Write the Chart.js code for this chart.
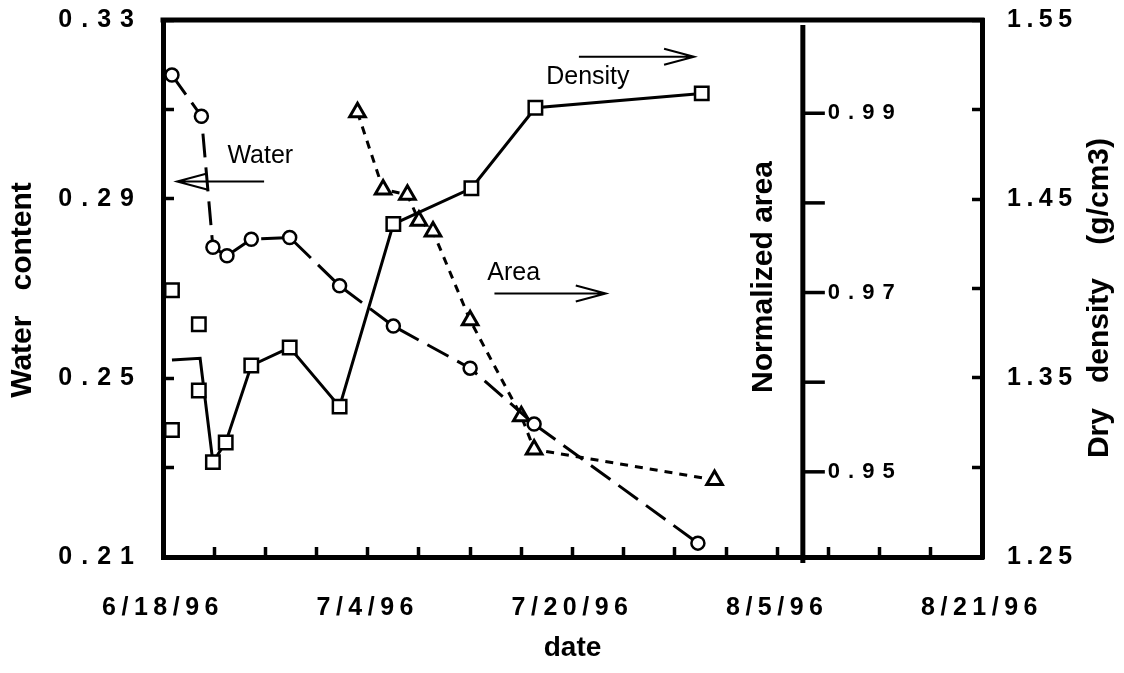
<!DOCTYPE html>
<html>
<head>
<meta charset="utf-8">
<title>Water content, dry density and normalized area</title>
<script src="https://cdn.jsdelivr.net/npm/chart.js@4.4.1/dist/chart.umd.min.js"></script>
<style>
  html, body { margin: 0; padding: 0; background: #fff; }
</style>
</head>
<body>
<canvas id="soilChart" width="1124" height="673"></canvas>
<script>
// x values are days counted from 6/18/96
const dateTicks = [0, 16, 32, 48, 64];
const dateLabels = ['6/18/96', '7/4/96', '7/20/96', '8/5/96', '8/21/96'];

const waterDays = [0.7, 3.0, 3.9, 5.0, 6.9, 9.9, 13.8, 18.0, 24.0, 29.0, 41.8];
const waterContent = [0.3177, 0.3085, 0.2792, 0.2773, 0.2810, 0.2814, 0.2706, 0.2616, 0.2522, 0.2397, 0.2131];

// single density samples (squares)
const densityDays = [0.7, 0.7, 2.8, 2.8, 3.9, 4.9, 6.9, 9.9, 13.8, 18.0, 24.1, 29.1, 42.1];
const densityValues = [1.399, 1.321, 1.380, 1.343, 1.303, 1.314, 1.357, 1.367, 1.334, 1.436, 1.456, 1.501, 1.509];

// mean density per day (solid line)
const densityMeanDays = [0.7, 2.9, 3.9, 4.9, 6.9, 9.9, 13.8, 18.0, 24.1, 29.1, 42.1];
const densityMean = [1.360, 1.361, 1.303, 1.314, 1.357, 1.367, 1.334, 1.436, 1.456, 1.501, 1.509];

const areaDays = [15.2, 17.2, 19.1, 20.0, 21.1, 24.0, 28.0, 29.0, 43.1];
const areaValues = [0.9901, 0.9815, 0.9809, 0.9780, 0.9768, 0.9669, 0.9562, 0.9525, 0.9491];

const waterTicks = [0.21, 0.25, 0.29, 0.33];
const densityTicks = [1.25, 1.35, 1.45, 1.55];
const areaTicks = [0.95, 0.96, 0.97, 0.98, 0.99];
const areaTickLabels = [0.95, 0.97, 0.99];
const areaAxisDay = 50;

const family = '"Liberation Sans", Arial, Helvetica, sans-serif';
const black = '#000';

const toPoints = (xs, ys) => xs.map((x, i) => ({ x: x, y: ys[i] }));

// text notes with arrows, placed in (day, water content) units
const notes = [
    { text: 'Water', day: 7.6, level: 0.2996, arrowLevel: 0.2939, fromDay: 7.9, toDay: 1.1 },
    { text: 'Density', day: 33.2, level: 0.3173, arrowLevel: 0.3218, fromDay: 32.5, toDay: 41.5 },
    { text: 'Area', day: 27.4, level: 0.2735, arrowLevel: 0.2689, fromDay: 25.9, toDay: 34.6 }
];

function drawArrow(ctx, x1, y, x2) {
    const dir = Math.sign(x2 - x1);
    ctx.beginPath();
    ctx.moveTo(x1, y);
    ctx.lineTo(x2, y);
    ctx.moveTo(x2 - dir * 30, y - 8);
    ctx.lineTo(x2, y);
    ctx.lineTo(x2 - dir * 30, y + 8);
    ctx.stroke();
}

function drawVertical(ctx, text, x, y) {
    ctx.save();
    ctx.translate(x, y);
    ctx.rotate(-Math.PI / 2);
    ctx.fillText(text, 0, 0);
    ctx.restore();
}

// wide letter spacing of the original tick labels
const spacingPlugin = {
    id: 'spacing',
    beforeDraw(chart) {
        chart.ctx.letterSpacing = '5.5px';
    },
    afterDatasetsDraw(chart) {
        // left axis labels are drawn after the datasets (ticks.z = 1)
        chart.ctx.letterSpacing = '9px';
    }
};

const extrasPlugin = {
    id: 'extras',
    afterDraw(chart) {
        const { ctx, chartArea: area, scales } = chart;
        const x = scales.x;
        const yW = scales.y;
        const yA = scales.yArea;

        ctx.save();
        ctx.strokeStyle = black;
        ctx.fillStyle = black;
        ctx.letterSpacing = '0px';

        // top edge of the frame
        ctx.lineWidth = 5;
        ctx.beginPath();
        ctx.moveTo(area.left - 2.5, area.top);
        ctx.lineTo(area.right + 2.5, area.top);
        ctx.stroke();

        // normalized area axis inside the plot
        const ax = x.getPixelForValue(areaAxisDay);
        ctx.beginPath();
        ctx.moveTo(ax, area.top + 5);
        ctx.lineTo(ax, area.bottom + 6);
        ctx.stroke();

        ctx.lineWidth = 3.5;
        ctx.font = 'bold 22px ' + family;
        ctx.letterSpacing = '8px';
        ctx.textBaseline = 'middle';
        ctx.textAlign = 'left';
        areaTicks.forEach(v => {
            const py = yA.getPixelForValue(v);
            ctx.beginPath();
            ctx.moveTo(ax, py);
            ctx.lineTo(ax + 22, py);
            ctx.stroke();
            if (areaTickLabels.includes(v)) {
                ctx.fillText(v.toFixed(2), ax + 25, py);
            }
        });

        // axis titles
        ctx.font = 'bold 30px ' + family;
        ctx.letterSpacing = '0px';
        ctx.textAlign = 'center';
        drawVertical(ctx, 'Water   content', scales.y.left + 23, 290);
        drawVertical(ctx, 'Dry   density    (g/cm3)', scales.yDensity.right - 24, 298);
        drawVertical(ctx, 'Normalized area', ax - 39, 277);
        ctx.font = 'bold 28px ' + family;
        ctx.fillText('date', (area.left + area.right) / 2, 648);

        // notes
        ctx.font = '25px ' + family;
        ctx.lineWidth = 2;
        notes.forEach(n => {
            ctx.fillText(n.text, x.getPixelForValue(n.day), yW.getPixelForValue(n.level));
            drawArrow(ctx, x.getPixelForValue(n.fromDay), yW.getPixelForValue(n.arrowLevel), x.getPixelForValue(n.toDay));
        });

        ctx.restore();
    }
};

const tickFont = { family: family, size: 25, weight: 'bold' };

new Chart(document.getElementById('soilChart'), {
    type: 'line',
    data: {
        datasets: [
            {
                label: 'Water content',
                yAxisID: 'y',
                data: toPoints(waterDays, waterContent),
                borderColor: black,
                borderWidth: 3,
                borderDash: [24, 10],
                pointStyle: 'circle',
                pointRadius: 6.5,
                pointBorderWidth: 2.5,
                pointBorderColor: black,
                pointBackgroundColor: '#fff',
                tension: 0
            },
            {
                label: 'Normalized area',
                yAxisID: 'yArea',
                data: toPoints(areaDays, areaValues),
                borderColor: black,
                borderWidth: 3,
                borderDash: [8, 7],
                pointStyle: 'triangle',
                pointRadius: 9,
                pointBorderWidth: 3,
                pointBorderColor: black,
                pointBackgroundColor: '#fff',
                tension: 0
            },
            {
                label: 'Dry density samples',
                yAxisID: 'yDensity',
                data: toPoints(densityDays, densityValues),
                showLine: false,
                pointStyle: 'rect',
                pointRadius: 9.5,
                pointBorderWidth: 2.5,
                pointBorderColor: black,
                pointBackgroundColor: '#fff'
            },
            {
                label: 'Dry density',
                yAxisID: 'yDensity',
                data: toPoints(densityMeanDays, densityMean),
                borderColor: black,
                borderWidth: 3,
                pointRadius: 0,
                tension: 0
            }
        ]
    },
    options: {
        responsive: false,
        animation: false,
        layout: { padding: { top: 20, left: 0, right: 0, bottom: 0 } },
        plugins: {
            legend: { display: false },
            tooltip: { enabled: false }
        },
        scales: {
            x: {
                type: 'linear',
                position: 'bottom',
                min: 0,
                max: 64,
                afterFit: s => { s.height = 116; s.paddingLeft = 0; s.paddingRight = 0; },
                border: { display: true, color: black, width: 5 },
                grid: { drawOnChartArea: false, tickLength: -10, tickColor: black, tickWidth: 3.5 },
                ticks: {
                    stepSize: 4,
                    autoSkip: false,
                    maxRotation: 0,
                    padding: 46,
                    color: black,
                    font: tickFont,
                    callback: v => {
                        const i = dateTicks.indexOf(v);
                        return i >= 0 ? dateLabels[i] : '';
                    }
                }
            },
            y: {
                type: 'linear',
                position: 'left',
                min: 0.21,
                max: 0.33,
                afterFit: s => { s.width = 163; s.paddingTop = 0; s.paddingBottom = 0; },
                border: { display: true, color: black, width: 5 },
                grid: { drawOnChartArea: false, tickLength: -11, tickColor: black, tickWidth: 3.5 },
                ticks: {
                    z: 1,
                    stepSize: 0.02,
                    autoSkip: false,
                    padding: 31,
                    color: black,
                    font: tickFont,
                    callback: v => waterTicks.some(t => Math.abs(t - v) < 1e-6) ? v.toFixed(2) : ''
                }
            },
            yDensity: {
                type: 'linear',
                position: 'right',
                min: 1.25,
                max: 1.55,
                afterFit: s => { s.width = 142; s.paddingTop = 0; s.paddingBottom = 0; },
                border: { display: true, color: black, width: 5 },
                grid: { drawOnChartArea: false, tickLength: -10, tickColor: black, tickWidth: 3.5 },
                ticks: {
                    stepSize: 0.05,
                    autoSkip: false,
                    padding: 35,
                    color: black,
                    font: tickFont,
                    callback: v => densityTicks.some(t => Math.abs(t - v) < 1e-6) ? v.toFixed(2) : ''
                }
            },
            yArea: {
                type: 'linear',
                display: false,
                min: 0.9405,
                max: 1.0004
            }
        }
    },
    plugins: [spacingPlugin, extrasPlugin]
});
</script>
</body>
</html>
